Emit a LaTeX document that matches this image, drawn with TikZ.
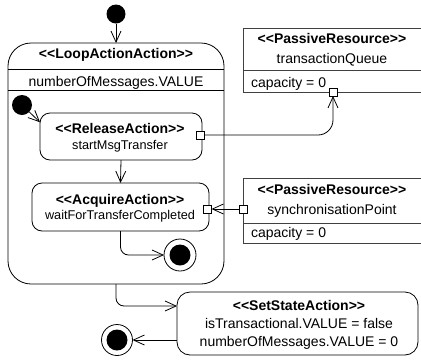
\documentclass[tikz,border=0pt]{standalone}
\usepackage{fontspec}
\setmainfont{Liberation Sans}
\usetikzlibrary{arrows.meta}
\newcommand{\stereo}[1]{<{}<#1>{}>}
\begin{document}
\begin{tikzpicture}[x=1pt,y=-1pt,
  every node/.style={inner sep=0pt, outer sep=0pt},
  line/.style={draw=black, line width=0.8pt},
  flow/.style={line width=0.8pt, -{Straight Barb[length=11pt,width=10pt]}},
  txt/.style={anchor=base, font=\fontsize{14}{16}\selectfont},
  btxt/.style={anchor=base, font=\fontsize{14}{16}\selectfont\bfseries},
  stxt/.style={anchor=base, font=\fontsize{12.7}{15}\selectfont},
  ltxt/.style={anchor=base west, font=\fontsize{14}{16}\selectfont},
  initial/.style={circle, fill=black, minimum size=19pt},
  finalring/.style={circle, draw=black, line width=0.8pt, fill=white, minimum size=32pt},
  finaldot/.style={circle, fill=black, minimum size=21pt},
  pinbox/.style={rectangle, draw=black, line width=0.8pt, fill=white, minimum size=8pt},
  action/.style={rectangle, rounded corners=10pt, draw=black, line width=0.8pt},
  resource/.style={rectangle, draw=black!75, line width=0.8pt}
]
\useasboundingbox (0,0) rectangle (421,360);

% loop action
\node[rectangle, rounded corners=23pt, draw=black, line width=0.8pt,
      minimum width=216pt, minimum height=241pt] (loop) at (116,163.5) {};
\node[btxt] (looptitle) at (116,58.5) {\stereo{LoopActionAction}};
\coordinate (d1) at (0,69);
\coordinate (d2) at (0,90);
\draw[line] (loop.west |- d1) -- (loop.east |- d1);
\node[txt] (loopval) at (116,86) {numberOfMessages.VALUE};
\draw[line] (loop.west |- d2) -- (loop.east |- d2);

\node[initial] (init1) at (116,14) {};
\node[initial, minimum size=20pt] (init2) at (22,105) {};

% release action
\node[action, minimum width=162pt, minimum height=47pt] (release) at (121,136.5) {};
\node[btxt] (reltitle) at (120,133.3) {\stereo{ReleaseAction}};
\node[stxt] (relname) at (120,149) {startMsgTransfer};
\node[pinbox] (rpin) at (200,135) {};

% acquire action
\node[action, minimum width=177pt, minimum height=48pt] (acquire) at (120.5,207) {};
\node[btxt] (acqtitle) at (120,204) {\stereo{AcquireAction}};
\node[stxt] (acqname) at (120,219) {waitForTransferCompleted};
\node[pinbox] (apin) at (207.5,209) {};

\node[finalring] (final1) at (180,255) {};
\node[finaldot] (final1dot) at (180,255) {};

% passive resources
\node[resource, minimum width=182pt, minimum height=64pt] (res1) at (334,60) {};
\coordinate (d3) at (0,70);
\draw[draw=black!75, line width=0.8pt] (res1.west |- d3) -- (res1.east |- d3);
\node[btxt] (res1title) at (332,43) {\stereo{PassiveResource}};
\node[txt] (res1name) at (332,63) {transactionQueue};
\node[ltxt] (res1cap) at (251,87) {capacity = 0};
\node[pinbox] (ppin1) at (333,92) {};

\node[resource, minimum width=182pt, minimum height=65pt] (res2) at (334,210.5) {};
\coordinate (d4) at (0,223);
\draw[draw=black!75, line width=0.8pt] (res2.west |- d4) -- (res2.east |- d4);
\node[btxt] (res2title) at (332,194) {\stereo{PassiveResource}};
\node[txt] (res2name) at (332,214) {synchronisationPoint};
\node[ltxt] (res2cap) at (251,237) {capacity = 0};
\node[pinbox] (ppin2) at (243,209) {};

% set state action
\node[rectangle, rounded corners=13pt, draw=black, line width=0.8pt,
      minimum width=241pt, minimum height=63pt] (setstate) at (297.5,323.5) {};
\node[btxt] (sstitle) at (299,310) {\stereo{SetStateAction}};
\node[txt] (ssl1) at (299,328) {isTransactional.VALUE = false};
\node[txt] (ssl2) at (299,346) {numberOfMessages.VALUE = 0};

\node[finalring, minimum size=31pt] (final2) at (117,340) {};
\node[finaldot] (final2dot) at (117,340) {};

% connectors
\coordinate (exity) at (0,306);
\draw[flow] (init1) -- (loop.north);
\draw[flow] (init2) -- (release.170);
\draw[flow] (release.south) -- (acquire.north);
\draw[flow, rounded corners=8pt] (acquire.south) |- (final1.west);
\draw[flow, rounded corners=8pt] (loop.south) |- (setstate.west |- exity);
\draw[flow] (setstate.west |- final2) -- (final2.east);
\draw[flow, rounded corners=15pt] (rpin.east) -| (ppin1.south);
\draw[flow] (ppin2.west) -- (apin.east);
\end{tikzpicture}
\end{document}
